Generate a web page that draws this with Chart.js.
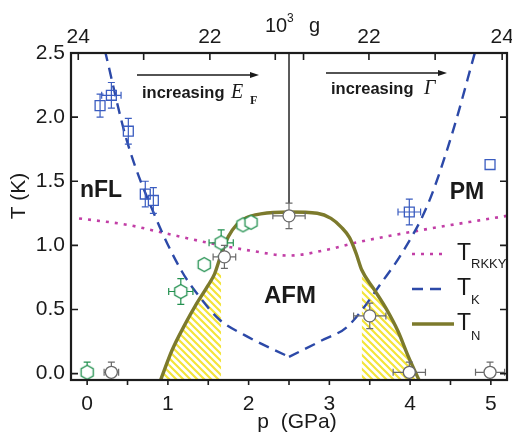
<!DOCTYPE html>
<html><head><meta charset="utf-8">
<script src="https://cdn.jsdelivr.net/npm/chart.js@4/dist/chart.umd.min.js"></script>
<style>html,body{margin:0;padding:0;background:#fff;}</style>
</head><body>
<canvas id="c" width="512" height="435"></canvas>
<script>
// ---------- data ----------
const xTicks = [0, 1, 2, 3, 4, 5];
const xMinorTicks = [0, 0.5, 1, 1.5, 2, 2.5, 3, 3.5, 4, 4.5, 5];
const yTicks = [0.0, 0.5, 1.0, 1.5, 2.0, 2.5];
const topTickPos = [-0.11, 0.70, 1.52, 2.33, 2.68, 3.49, 4.31, 5.14];
const topTickLabels = ['24', '', '22', '', '', '22', '', '24'];

// blue squares
const sqP    = [0.16, 0.30, 0.51, 0.72, 0.82, 3.99, 4.99];
const sqT    = [2.09, 2.17, 1.89, 1.40, 1.35, 1.26, 1.63];
const sqPerr = [0,    0.12, 0,    0,    0,    0.14, 0];
const sqTerr = [0.09, 0.10, 0.10, 0.10, 0.10, 0.10, 0];
// green hexagons
const hxP    = [0.00, 1.16, 1.45, 1.66, 1.93, 2.03];
const hxT    = [0.01, 0.64, 0.85, 1.02, 1.16, 1.18];
const hxPerr = [0,    0.15, 0,    0.15, 0,    0];
const hxTerr = [0.08, 0.10, 0,    0.10, 0,    0];
// gray circles
const ciP    = [0.30, 1.70, 2.50, 3.50, 3.99, 4.99];
const ciT    = [0.01, 0.91, 1.23, 0.45, 0.01, 0.01];
const ciPerr = [0.09, 0.14, 0.20, 0.20, 0.20, 0.18];
const ciTerr = [0.08, 0.09, 0.10, 0.10, 0.08, 0.08];

// T_K (dashed), two branches
const tkLP = [0.22, 0.49, 0.86, 1.17, 1.39, 1.64, 1.95, 2.50];
const tkLT = [2.52, 1.82, 1.20, 0.80, 0.60, 0.42, 0.30, 0.13];
const tkRP = [2.50, 2.91, 3.23, 3.67, 3.90, 4.22, 4.52, 4.81];
const tkRT = [0.13, 0.26, 0.37, 0.73, 0.94, 1.32, 1.87, 2.52];
// T_RKKY (dotted)
const trP = [-0.10, 0.50, 0.93, 1.50, 2.01, 2.50, 3.00, 3.32, 4.15, 5.20];
const trT = [1.21, 1.16, 1.10, 1.02, 0.96, 0.92, 0.97, 1.02, 1.12, 1.23];
// T_N (solid)
const tnP = [0.91, 1.05, 1.20, 1.35, 1.50, 1.58, 1.66, 1.75, 1.85, 1.97, 2.15, 2.50, 2.85, 3.02, 3.15, 3.25, 3.33, 3.40, 3.55, 3.70, 3.85, 3.98, 4.11];
const tnT = [-0.05, 0.18, 0.37, 0.54, 0.69, 0.78, 0.93, 1.07, 1.16, 1.215, 1.245, 1.26, 1.25, 1.21, 1.14, 1.06, 0.94, 0.81, 0.66, 0.51, 0.33, 0.13, -0.05];
// hatched regions
const hlP = [0.91, 1.05, 1.20, 1.35, 1.50, 1.58, 1.66];
const hlT = [-0.05, 0.18, 0.37, 0.54, 0.69, 0.78, 0.79];
const hrP = [3.40, 3.55, 3.70, 3.85, 3.98, 4.11];
const hrT = [0.80, 0.66, 0.51, 0.33, 0.13, -0.05];
// vertical guide line at p = 2.5
const vlP = [2.50, 2.50];
const vlT = [2.50, 1.33];

// ---------- helpers ----------
const FONT = "'Liberation Sans', Arial, Helvetica, sans-serif";
const SERIF = "'Liberation Serif', 'Times New Roman', serif";
const pts = (xs, ys) => xs.map((x, i) => ({x: x, y: ys[i]}));
const BLUE = '#2c49a8', SQBLUE = '#3a5cc0', GREEN = '#22904f', GRAY = '#6a6a6a', OLIVE = '#7c7a2c', MAG = '#c23ea6', YEL = '#f3e43a';

const canvas = document.getElementById('c');
const ctx = canvas.getContext('2d');

function makeHatch() {
  const s = 7;
  const pc = document.createElement('canvas'); pc.width = s; pc.height = s;
  const g = pc.getContext('2d');
  g.strokeStyle = YEL; g.lineWidth = 2.2;
  g.beginPath();
  g.moveTo(-2, -2); g.lineTo(s + 2, s + 2);
  g.moveTo(-2, s - 2); g.lineTo(2, s + 2);
  g.moveTo(s - 2, -2); g.lineTo(s + 2, 2);
  g.stroke();
  return ctx.createPattern(pc, 'repeat');
}
function makeHex() {
  const c = document.createElement('canvas'); c.width = 17; c.height = 17;
  const g = c.getContext('2d');
  g.beginPath();
  for (let k = 0; k < 6; k++) {
    const a = Math.PI / 2 + k * Math.PI / 3;
    const px = 8.5 + 7 * Math.cos(a), py = 8.5 + 7 * Math.sin(a);
    if (k) g.lineTo(px, py); else g.moveTo(px, py);
  }
  g.closePath(); g.fillStyle = '#fff'; g.fill();
  g.strokeStyle = GREEN; g.lineWidth = 1.3; g.stroke();
  return c;
}
const hatch = makeHatch();
const hexImg = makeHex();

// ---------- plugins ----------
const errPlugin = {
  id: 'errbars',
  beforeDatasetDraw(chart, args) {
    const ds = chart.data.datasets[args.index];
    if (!ds.err) return;
    const e = ds.err, X = chart.scales.x, Y = chart.scales.y, c = chart.ctx, a = chart.chartArea;
    c.save();
    c.beginPath(); c.rect(a.left, a.top, a.right - a.left, a.bottom - a.top); c.clip();
    c.strokeStyle = e.color; c.lineWidth = 1.2;
    const cap = 3.5;
    for (let i = 0; i < e.xs.length; i++) {
      const px = X.getPixelForValue(e.xs[i]), py = Y.getPixelForValue(e.ys[i]);
      c.beginPath();
      if (e.ye[i] > 0) {
        const t = Y.getPixelForValue(e.ys[i] + e.ye[i]), b = Y.getPixelForValue(e.ys[i] - e.ye[i]);
        c.moveTo(px, t); c.lineTo(px, b);
        c.moveTo(px - cap, t); c.lineTo(px + cap, t);
        c.moveTo(px - cap, b); c.lineTo(px + cap, b);
      }
      if (e.xe[i] > 0) {
        const l = X.getPixelForValue(e.xs[i] - e.xe[i]), r = X.getPixelForValue(e.xs[i] + e.xe[i]);
        c.moveTo(l, py); c.lineTo(r, py);
        c.moveTo(l, py - cap); c.lineTo(l, py + cap);
        c.moveTo(r, py - cap); c.lineTo(r, py + cap);
      }
      c.stroke();
    }
    c.restore();
  }
};

const framePlugin = {
  id: 'frame',
  afterDraw(chart) {
    const c = chart.ctx, a = chart.chartArea, X = chart.scales.x, Y = chart.scales.y;
    c.save();
    c.strokeStyle = '#1c1c1c'; c.lineWidth = 1.6;
    c.beginPath();
    xMinorTicks.forEach(v => { const px = X.getPixelForValue(v); c.moveTo(px, a.bottom); c.lineTo(px, a.bottom + 5); });
    topTickPos.forEach(v => { const px = X.getPixelForValue(v); c.moveTo(px, a.top); c.lineTo(px, a.top + 7); });
    yTicks.forEach(v => { const py = Y.getPixelForValue(v); c.moveTo(a.left, py); c.lineTo(a.left + 7, py); c.moveTo(a.right, py); c.lineTo(a.right - 7, py); });
    c.stroke();
    c.lineWidth = 2.2;
    c.strokeRect(a.left, a.top, a.right - a.left, a.bottom - a.top);
    // top axis labels, placed through the x scale
    c.fillStyle = '#1a1a1a'; c.font = '21px ' + FONT;
    c.textAlign = 'center'; c.textBaseline = 'alphabetic';
    topTickPos.forEach((v, i) => { if (topTickLabels[i]) c.fillText(topTickLabels[i], X.getPixelForValue(v), 43); });
    c.restore();
  }
};

function arrow(c, x1, x2, y) {
  c.beginPath(); c.moveTo(x1, y); c.lineTo(x2 - 6, y); c.stroke();
  c.beginPath(); c.moveTo(x2, y); c.lineTo(x2 - 9, y - 3); c.lineTo(x2 - 9, y + 3); c.closePath(); c.fill();
}

const textPlugin = {
  id: 'texts',
  afterDraw(chart) {
    const c = chart.ctx;
    c.save();
    c.fillStyle = '#1a1a1a'; c.strokeStyle = '#1a1a1a'; c.lineWidth = 1.5;
    // axis titles
    c.font = '21px ' + FONT; c.textAlign = 'center'; c.textBaseline = 'middle';
    c.fillText('p  (GPa)', 297, 422);
    c.save(); c.translate(19, 196); c.rotate(-Math.PI / 2); c.fillText('T (K)', 0, 0); c.restore();
    // top title 10^3 g
    c.textAlign = 'left'; c.textBaseline = 'alphabetic';
    c.font = '20px ' + FONT; c.fillText('10', 265, 32);
    c.font = '12px ' + FONT; c.fillText('3', 287, 22);
    c.font = '20px ' + FONT; c.fillText('g', 309, 32);
    // phase labels
    c.textAlign = 'center'; c.textBaseline = 'middle';
    c.font = 'bold 23px ' + FONT;
    c.fillText('nFL', 101, 191);
    c.fillText('PM', 467, 193);
    c.font = 'bold 24px ' + FONT;
    c.fillText('AFM', 290, 296);
    // arrows
    arrow(c, 137, 259, 75);
    arrow(c, 326, 447, 73);
    c.textAlign = 'left'; c.textBaseline = 'alphabetic';
    c.font = 'bold 16.5px ' + FONT;
    c.fillText('increasing', 142, 98);
    c.fillText('increasing', 331, 94);
    c.font = 'italic 20px ' + SERIF;
    c.fillText('E', 231, 98);
    c.fillText('\u0393', 424, 94);
    c.font = 'bold 12px ' + SERIF;
    c.fillText('F', 250, 104);
    // legend
    c.lineCap = 'butt';
    c.strokeStyle = MAG; c.lineWidth = 2.6; c.setLineDash([3, 6]);
    c.beginPath(); c.moveTo(412, 254); c.lineTo(446, 254); c.stroke();
    c.strokeStyle = BLUE; c.lineWidth = 2.4; c.setLineDash([11, 7]);
    c.beginPath(); c.moveTo(412, 289); c.lineTo(448, 289); c.stroke();
    c.strokeStyle = OLIVE; c.lineWidth = 3.4; c.setLineDash([]);
    c.beginPath(); c.moveTo(412, 324); c.lineTo(454, 324); c.stroke();
    c.fillStyle = '#1a1a1a';
    c.font = '23px ' + FONT;
    c.fillText('T', 457, 260); c.fillText('T', 457, 295); c.fillText('T', 457, 330);
    c.font = '13px ' + FONT;
    c.fillText('RKKY', 471, 268); c.fillText('K', 471, 304); c.fillText('N', 471, 340);
    c.restore();
  }
};

// ---------- chart ----------
const tickFont = {family: FONT, size: 21};
new Chart(ctx, {
  type: 'scatter',
  data: {
    datasets: [
      {label: 'hatchL', data: pts(hlP, hlT), showLine: true, borderColor: 'rgba(0,0,0,0)', borderWidth: 0, pointRadius: 0,
       fill: 'start', backgroundColor: hatch, cubicInterpolationMode: 'monotone', order: 30},
      {label: 'hatchR', data: pts(hrP, hrT), showLine: true, borderColor: 'rgba(0,0,0,0)', borderWidth: 0, pointRadius: 0,
       fill: 'start', backgroundColor: hatch, cubicInterpolationMode: 'monotone', order: 30},
      {label: 'T_RKKY', data: pts(trP, trT), showLine: true, borderColor: MAG, borderWidth: 2.6, borderDash: [3, 6], pointRadius: 0,
       fill: false, cubicInterpolationMode: 'monotone', order: 20},
      {label: 'T_K left', data: pts(tkLP, tkLT), showLine: true, borderColor: BLUE, borderWidth: 2.4, borderDash: [11, 7], pointRadius: 0,
       fill: false, cubicInterpolationMode: 'monotone', order: 19},
      {label: 'T_K right', data: pts(tkRP, tkRT), showLine: true, borderColor: BLUE, borderWidth: 2.4, borderDash: [11, 7], pointRadius: 0,
       fill: false, cubicInterpolationMode: 'monotone', order: 18},
      {label: 'T_N', data: pts(tnP, tnT), showLine: true, borderColor: OLIVE, borderWidth: 3.4, pointRadius: 0,
       fill: false, cubicInterpolationMode: 'monotone', order: 15},
      {label: 'guide', data: pts(vlP, vlT), showLine: true, borderColor: '#444', borderWidth: 1, pointRadius: 0, fill: false, order: 14},
      {label: 'squares', data: pts(sqP, sqT), showLine: false, pointStyle: 'rect', pointRadius: 7, borderWidth: 1.3,
       borderColor: SQBLUE, backgroundColor: 'rgba(255,255,255,0)', order: 5,
       err: {xs: sqP, ys: sqT, xe: sqPerr, ye: sqTerr, color: SQBLUE}},
      {label: 'hexagons', data: pts(hxP, hxT), showLine: false, pointStyle: hexImg, pointRadius: 7, order: 4,
       err: {xs: hxP, ys: hxT, xe: hxPerr, ye: hxTerr, color: GREEN}},
      {label: 'circles', data: pts(ciP, ciT), showLine: false, pointStyle: 'circle', pointRadius: 6, borderWidth: 1.3,
       borderColor: GRAY, backgroundColor: '#fff', order: 3,
       err: {xs: ciP, ys: ciT, xe: ciPerr, ye: ciTerr, color: GRAY}}
    ]
  },
  options: {
    responsive: false, animation: false, events: [],
    layout: {autoPadding: false, padding: {left: 0, right: 5, top: 53, bottom: 0}},
    plugins: {legend: {display: false}, tooltip: {enabled: false}},
    scales: {
      x: {type: 'linear', position: 'bottom', min: -0.2, max: 5.2,
          afterBuildTicks: s => { s.ticks = xTicks.map(v => ({value: v})); },
          afterFit: s => { s.height = 55; },
          ticks: {font: tickFont, color: '#1a1a1a', padding: 12, maxRotation: 0, autoSkip: false},
          grid: {display: false, drawTicks: false}, border: {display: false}},
      y: {type: 'linear', position: 'left', min: -0.05, max: 2.5,
          afterBuildTicks: s => { s.ticks = yTicks.map(v => ({value: v})); },
          afterFit: s => { s.width = 71; },
          ticks: {font: tickFont, color: '#1a1a1a', padding: 6, callback: v => v.toFixed(1)},
          grid: {display: false, drawTicks: false}, border: {display: false}}
    }
  },
  plugins: [errPlugin, framePlugin, textPlugin]
});
</script>
</body></html>
